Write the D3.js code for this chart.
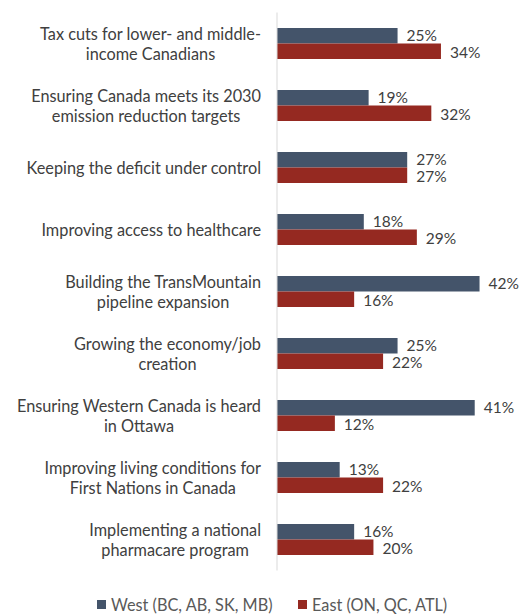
<!DOCTYPE html>
<html>
<head>
<meta charset="utf-8">
<script src="https://cdn.jsdelivr.net/npm/d3@7"></script>
<style>
  body { margin: 0; background: #fff; }
  text { font-family: Lato, "Open Sans", sans-serif; }
</style>
</head>
<body>
<script>
var w = 524, h = 616;

// categories, line breaks as in the original wrapped labels
var categories = [
    "Tax cuts for lower- and middle-\nincome Canadians",
    "Ensuring Canada meets its 2030\nemission reduction targets",
    "Keeping the deficit under control",
    "Improving access to healthcare",
    "Building the TransMountain\npipeline expansion",
    "Growing the economy/job\ncreation",
    "Ensuring Western Canada is heard\nin Ottawa",
    "Improving living conditions for\nFirst Nations in Canada",
    "Implementing a national\npharmacare program"
];
var west = [25, 19, 27, 18, 42, 25, 41, 13, 16];
var east = [34, 32, 27, 29, 16, 22, 12, 22, 20];
var seriesNames = ["West (BC, AB, SK, MB)", "East (ON, QC, ATL)"];
var colors = ["#44546a", "#952921"];

var svg = d3.select("body")
    .append("svg")
    .attr("width", w)
    .attr("height", h);

var axisX = 277;
var fontSize = "16.3px";

var yScale = d3.scaleBand()
    .domain(categories)
    .range([12.5, 570.5])
    .paddingInner(0.5)
    .paddingOuter(0.25);

var xScale = d3.scaleLinear()
    .domain([0, 45])
    .range([axisX, 494]);

var barH = yScale.bandwidth() / 2;

var series = [west, east];
var labelShift = [0, 1.5];

series.forEach(function(vals, s) {
    var g = svg.append("g");
    g.selectAll("rect")
        .data(vals)
        .enter()
        .append("rect")
        .attr("x", xScale(0))
        .attr("y", (d, i) => yScale(categories[i]) + s * barH)
        .attr("width", d => xScale(d) - xScale(0))
        .attr("height", barH)
        .style("fill", colors[s]);

    g.selectAll("text")
        .data(vals)
        .enter()
        .append("text")
        .attr("x", d => xScale(d) + 9)
        .attr("y", (d, i) => yScale(categories[i]) + s * barH + barH / 2 + labelShift[s])
        .attr("dy", "0.35em")
        .style("font-size", "15.5px")
        .style("fill", "#404040")
        .text(d => d + "%");
});

// vertical axis line
svg.append("line")
    .attr("x1", axisX)
    .attr("x2", axisX)
    .attr("y1", yScale.range()[0])
    .attr("y2", yScale.range()[1])
    .style("stroke", "#d9d9d9")
    .style("stroke-width", 1);

// category labels: each block right-aligned at the axis, lines centered inside it
var lineH = 20;
categories.forEach(function(c) {
    var lines = c.split("\n");
    var cy = yScale(c) + yScale.bandwidth() / 2 + 1;
    var t = svg.append("text")
        .style("font-size", fontSize)
        .style("fill", "#404040")
        .attr("text-anchor", "middle");
    var spans = lines.map(function(l, i) {
        return t.append("tspan")
            .attr("y", cy + (i - (lines.length - 1) / 2) * lineH)
            .attr("dy", "0.35em")
            .text(l);
    });
    var maxW = d3.max(spans, sp => sp.node().getComputedTextLength());
    spans.forEach(sp => sp.attr("x", 261 - maxW / 2));
});

// legend
var legendX = [97, 298];
seriesNames.forEach(function(name, s) {
    svg.append("rect")
        .attr("x", legendX[s])
        .attr("y", 600)
        .attr("width", 9)
        .attr("height", 9)
        .style("fill", colors[s]);
    svg.append("text")
        .attr("x", legendX[s] + 14)
        .attr("y", 605)
        .attr("dy", "0.35em")
        .style("font-size", fontSize)
        .style("fill", "#595959")
        .text(name);
});
</script>
</body>
</html>
